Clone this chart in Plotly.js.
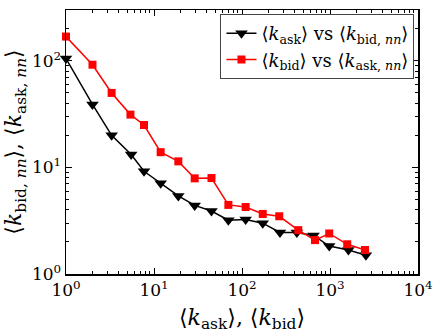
<!DOCTYPE html>
<html>
<head>
<meta charset="utf-8">
<script src="https://cdn.plot.ly/plotly-3.0.1.min.js"></script>
<style>
  body { margin: 0; padding: 0; background: #fff; }
  #chart { width: 436px; height: 336px; }
</style>
</head>
<body>
<div id="chart"></div>
<script>
// degree values, black series (k_ask vs k_bid,nn)
const askX = [1, 2, 3.3, 5.5, 7.7, 11.9, 18.9, 29, 45, 70, 110, 172, 270, 420, 650, 980, 1620, 2560];
const askY = [105, 39, 20, 13.2, 9.2, 7.1, 5.4, 4.4, 3.9, 3.2, 3.25, 3.0, 2.45, 2.45, 2.3, 1.83, 1.68, 1.5];

// red series (k_bid vs k_ask,nn)
const bidX = [1, 2, 3.3, 5.4, 7.7, 11.9, 18.9, 29, 45, 70, 110, 172, 265, 436, 675, 980, 1570, 2500];
const bidY = [169, 92, 50, 31.3, 25, 13.9, 11.4, 7.9, 7.95, 4.45, 4.25, 3.66, 3.48, 2.58, 2.08, 2.4, 1.9, 1.68];

const xTickVals = [1, 10, 100, 1000, 10000];
const xTickText = ['10<sup>0</sup>', '10<sup>1</sup>', '10<sup>2</sup>', '10<sup>3</sup>', '10<sup>4</sup>'];
const yTickVals = [1, 10, 100];
const yTickText = ['10<sup>0</sup>', '10<sup>1</sup>', '10<sup>2</sup>'];

// minor ticks 2..9 in each decade
function minorTicks(decades) {
  const out = [];
  decades.forEach(function (d) {
    for (let m = 2; m <= 9; m++) out.push(m * d);
  });
  return out;
}

const serif = 'DejaVu Serif, Liberation Serif, serif';

const traces = [{
  x: askX, y: askY,
  type: 'scatter', mode: 'lines+markers', cliponaxis: false,
  name: '⟨<i>k</i><sub>ask</sub>⟩ vs ⟨<i>k</i><sub>bid, <i>nn</i></sub>⟩',
  line: { color: 'black', width: 1.5 },
  marker: { symbol: 'triangle-down', size: 11, color: 'black' }
}, {
  x: bidX, y: bidY,
  type: 'scatter', mode: 'lines+markers', cliponaxis: false,
  name: '⟨<i>k</i><sub>bid</sub>⟩ vs ⟨<i>k</i><sub>ask, <i>nn</i></sub>⟩',
  line: { color: '#ff0000', width: 1.5 },
  marker: { symbol: 'square', size: 8, color: '#ff0000' }
}];

const axisCommon = {
  type: 'log',
  showline: true, linecolor: 'black', linewidth: 1.5,
  mirror: 'allticks',
  ticks: 'inside', ticklen: 6, tickcolor: 'black',
  showgrid: false, zeroline: false,
  tickfont: { family: serif, size: 17, color: 'black' }
};

const layout = {
  width: 436, height: 336,
  margin: { l: 66, r: 18, t: 10, b: 62 },
  paper_bgcolor: 'white', plot_bgcolor: 'white',
  font: { family: serif, color: 'black' },
  showlegend: true,
  legend: {
    x: 0.99, y: 0.985, xanchor: 'right', yanchor: 'top',
    bgcolor: 'white', bordercolor: '#444', borderwidth: 1,
    font: { family: serif, size: 18, color: 'black' },
    tracegroupgap: 0, itemwidth: 30
  },
  xaxis: Object.assign({}, axisCommon, {
    range: [0, 4],
    tickvals: xTickVals, ticktext: xTickText,
    minor: { tickmode: 'array', tickvals: minorTicks([1, 10, 100, 1000]), ticks: 'inside', ticklen: 3, tickcolor: 'black', showgrid: false },
    title: { text: '⟨<i>k</i><sub>ask</sub>⟩, ⟨<i>k</i><sub>bid</sub>⟩', font: { family: serif, size: 22 }, standoff: 10 }
  }),
  yaxis: Object.assign({}, axisCommon, {
    range: [0, Math.log10(300)],
    tickvals: yTickVals, ticktext: yTickText,
    minor: { tickmode: 'array', tickvals: minorTicks([1, 10, 100]), ticks: 'inside', ticklen: 3, tickcolor: 'black', showgrid: false },
    title: { text: '⟨<i>k</i><sub>bid, <i>nn</i></sub>⟩, ⟨<i>k</i><sub>ask, <i>nn</i></sub>⟩', font: { family: serif, size: 22 }, standoff: 4 }
  })
};

Plotly.newPlot('chart', traces, layout, { displayModeBar: false, staticPlot: true });
</script>
</body>
</html>
